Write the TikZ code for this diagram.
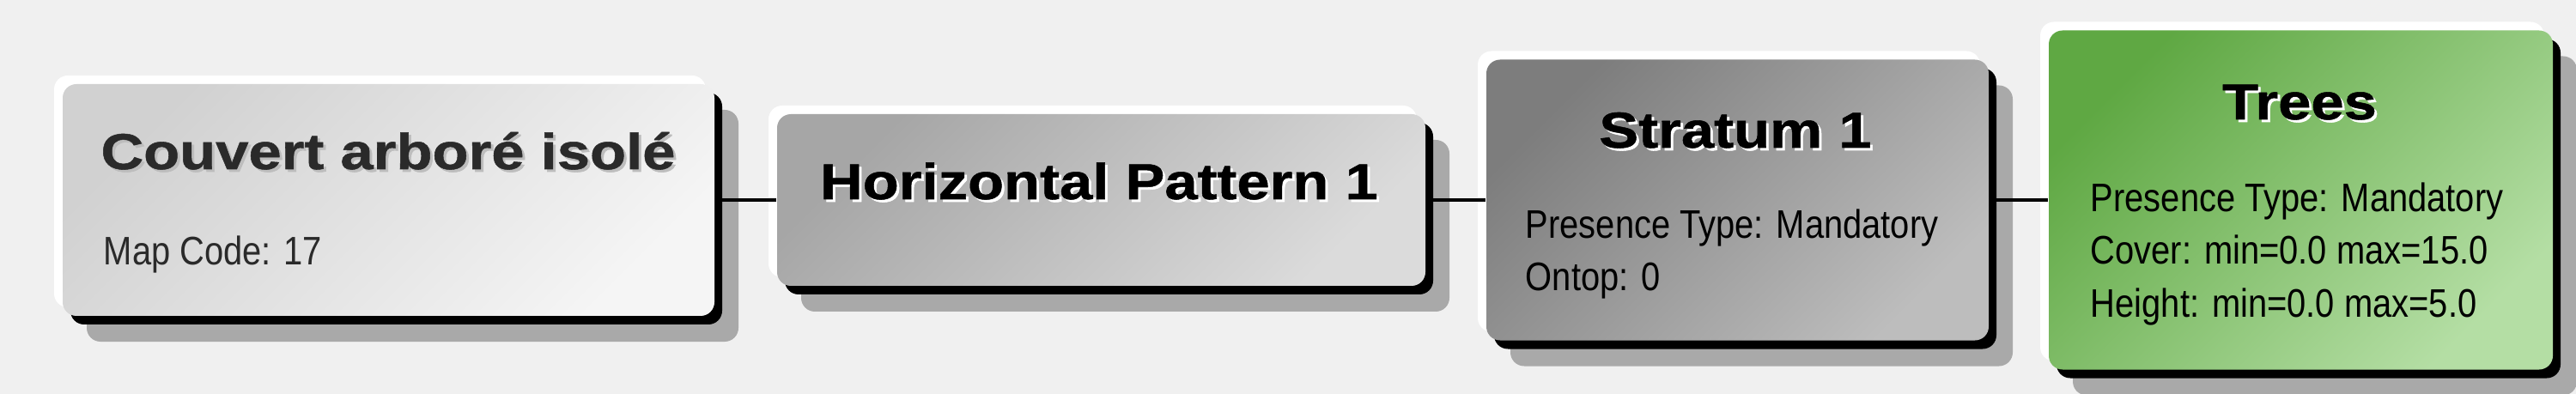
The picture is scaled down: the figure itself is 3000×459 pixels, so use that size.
\documentclass[tikz,border=0pt]{standalone}
\usepackage{fontspec}
\setmainfont{Liberation Sans}
\newfontfamily\titlefont[FakeStretch=1.17, FakeBold=0.9]{Liberation Sans Bold}
\newfontfamily\bodyfont[FakeStretch=0.86]{Liberation Sans}
\usetikzlibrary{shadows}
\definecolor{bggray}{HTML}{F0F0F0}
\definecolor{shadowgray}{HTML}{A9A9A9}
\definecolor{inkgray}{HTML}{2A2A2A}
\definecolor{glowgray}{HTML}{BDBDBD}
% text with a small offset copy behind it
\newcommand{\Raised}[2]{\rlap{\kern0.75pt\raisebox{-0.75pt}{\color{#1}#2}}#2}
\tikzset{
    card/.style={rounded corners=4pt, inner sep=0pt, draw=none,
        general shadow={shadow xshift=7pt, shadow yshift=-7.5pt, fill=shadowgray},
        general shadow={shadow xshift=2.25pt, shadow yshift=-2.5pt, fill=black},
        general shadow={shadow xshift=-2.5pt, shadow yshift=2.5pt, fill=white}},
    cardtitle/.style={font=\titlefont\fontsize{14.7}{17}\selectfont, anchor=base, inner sep=0pt},
    cardtext/.style={font=\bodyfont\fontsize{11.6}{14}\selectfont, anchor=base west, inner sep=0pt},
    link/.style={black, line width=0.8pt}
}
\begin{document}
\begin{tikzpicture}[x=0.25pt, y=-0.25pt]
    \fill[bggray] (0,0) rectangle (3000,459);
    \useasboundingbox (0,0) rectangle (3000,459);

    % boxes
    \node[card, minimum width=189.75pt, minimum height=67.5pt,
        top color=black!18, bottom color=black!4, shading angle=45] (couvert) at (452.5,233) {};
    \node[card, minimum width=188.75pt, minimum height=50pt,
        top color=black!35, bottom color=black!14, shading angle=45] (pattern) at (1282.5,233) {};
    \node[card, minimum width=146.25pt, minimum height=81.75pt,
        top color=black!51, bottom color=black!26, shading angle=45] (stratum) at (2023.5,233) {};
    \node[card, minimum width=146.75pt, minimum height=98.75pt,
        top color={rgb,255:red,95;green,168;blue,67}, bottom color={rgb,255:red,180;green,222;blue,164},
        shading angle=45] (trees) at (2679.5,233) {};

    % connectors
    \draw[link] (couvert.east) -- (pattern.west);
    \draw[link] (pattern.east) -- (stratum.west);
    \draw[link] (stratum.east) -- (trees.west);

    % texts
    \node[cardtitle, text=inkgray] (couvertname) at (452,197) {\Raised{glowgray}{Couvert arboré isolé}};
    \node[cardtext, text=inkgray] (couvertcode) at (120,309) {Map Code: 17};

    \node[cardtitle] (patternname) at (1280,232) {\Raised{white}{Horizontal Pattern 1}};

    \node[cardtitle] (stratumname) at (2021,172) {\Raised{white}{Stratum 1}};
    \node[cardtext] (stratumtype) at (1776,278) {Presence Type: Mandatory};
    \node[cardtext] (stratumtop) at (1776,339) {Ontop: 0};

    \node[cardtitle] (treesname) at (2678,139) {\Raised{white}{Trees}};
    \node[cardtext] (treestype) at (2434,247) {Presence Type: Mandatory};
    \node[cardtext] (treescover) at (2434,308) {Cover: min=0.0 max=15.0};
    \node[cardtext] (treesheight) at (2434,369) {Height: min=0.0 max=5.0};
\end{tikzpicture}
\end{document}
